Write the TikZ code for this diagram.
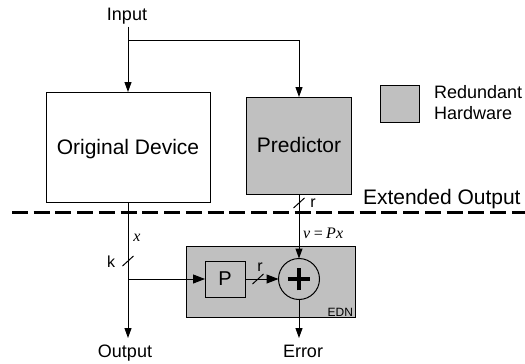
\documentclass[tikz,border=0pt]{standalone}
\usepackage{fontspec}
\setmainfont{Liberation Sans}
\newfontfamily\tms{Liberation Serif}
\usetikzlibrary{arrows.meta}
\definecolor{hwgray}{RGB}{192,192,192}
\tikzset{
  box/.style={draw, line width=0.75pt, inner sep=0pt, outer sep=0pt},
  lbl/.style={inner sep=0pt, outer sep=0pt},
  wire/.style={line width=0.75pt},
  arr/.style={wire, -{Triangle[length=7.5pt,width=5.25pt]}},
  bigarr/.style={wire, -{Triangle[length=9pt,width=6.75pt]}},
  sepline/.style={line width=2.25pt, dash pattern=on 12pt off 4.3pt},
  busmark/.style={line width=0.75pt},
}
\begin{document}
\begin{tikzpicture}[x=0.75pt, y=-0.75pt]
\useasboundingbox (0,0) rectangle (525,364);

% main blocks
\node[box, minimum width=123pt, minimum height=82.5pt] (od) at (128,147) {};
\node[lbl, anchor=base, font=\fontsize{15.75pt}{18pt}\selectfont] (odtxt) at (128,154) {Original Device};
\node[box, fill=hwgray, minimum width=78.75pt, minimum height=72.75pt] (pred) at (299,145.5) {};
\node[lbl, anchor=base, font=\fontsize{15.75pt}{18pt}\selectfont] (predtxt) at (299,152) {Predictor};

% legend
\node[box, fill=hwgray, minimum width=29.25pt, minimum height=27.75pt] (leg) at (399.5,103.5) {};
\node[lbl, anchor=base west, font=\fontsize{13.5pt}{16pt}\selectfont] (legtxt1) at (434,98) {Redundant};
\node[lbl, anchor=base west, font=\fontsize{13.5pt}{16pt}\selectfont] (legtxt2) at (434,119) {Hardware};

% separation of the extended output
\coordinate (dl) at (12,212);
\coordinate (dr) at (525,212);
\draw[sepline] (dl) -- (dr);
\node[lbl, anchor=base west, font=\fontsize{15.75pt}{18pt}\selectfont] (ext) at (363,204) {Extended Output};

% error detection network
\node[box, fill=hwgray, minimum width=126.75pt, minimum height=53.25pt] (edn) at (270.5,281.5) {};
\node[lbl, anchor=base east, font=\fontsize{9pt}{10pt}\selectfont] (edntxt) at (353,316) {EDN};
\node[box, fill=hwgray, minimum width=30pt, minimum height=27pt, font=\fontsize{15pt}{18pt}\selectfont] (pbox) at (225,279) {P};
\node[box, circle, fill=hwgray, minimum size=30.75pt] (sum) at (299,279) {};
\draw[line width=3pt] ([xshift=-8.6pt]sum.center) -- ([xshift=8.6pt]sum.center);
\draw[line width=3pt] ([yshift=-8.6pt]sum.center) -- ([yshift=8.6pt]sum.center);

% input and outputs
\node[lbl, anchor=base, font=\fontsize{13.5pt}{16pt}\selectfont, inner sep=1.5pt] (in) at (127,21) {Input};
\coordinate (j1) at (128,40);
\node[lbl, anchor=base, font=\fontsize{13.5pt}{16pt}\selectfont] (outlbl) at (125,357) {Output};
\node[lbl, anchor=base, font=\fontsize{13.5pt}{16pt}\selectfont] (errlbl) at (303,357) {Error};
\coordinate (outtip) at (128,338);
\coordinate (errtip) at (299,338);
\coordinate (tap) at (128,279);

% connectors
\draw[wire] (in.south -| od.north) -- (j1);
\draw[arr] (j1) -- (od.north);
\draw[arr] (j1) -| (pred.north);
\draw[arr] (od.south) -- (outtip);
\draw[bigarr] (tap) -- (pbox.west);
\draw[bigarr] (pbox.east) -- (sum.west);
\draw[arr] (pred.south) -- (sum.north);
\draw[arr] (sum.south) -- (errtip);

% bus width marks and signal names
\coordinate (kmark) at (128,261);
\coordinate (rmark1) at (299,203);
\coordinate (rmark2) at (258,279);
\draw[busmark] (kmark) ++(-5.5,5) -- ++(11,-10);
\draw[busmark] (rmark1) ++(-5.5,5) -- ++(11,-10);
\draw[busmark] (rmark2) ++(-5.5,5) -- ++(11,-10);
\node[lbl, anchor=base, font=\fontsize{12pt}{14pt}\selectfont] (klbl) at (111,267) {k};
\node[lbl, anchor=base, font=\fontsize{12pt}{14pt}\selectfont] (rlbl1) at (313,207) {r};
\node[lbl, anchor=base, font=\fontsize{12pt}{14pt}\selectfont] (rlbl2) at (260,271) {r};
\node[lbl, anchor=base, font=\fontsize{12pt}{14pt}\selectfont\tms\itshape] (xlbl) at (137,241) {x};
\node[lbl, anchor=base west, font=\fontsize{12pt}{14pt}\selectfont\tms\itshape] (vlbl) at (303,238) {v\,=\,Px};
\end{tikzpicture}
\end{document}
